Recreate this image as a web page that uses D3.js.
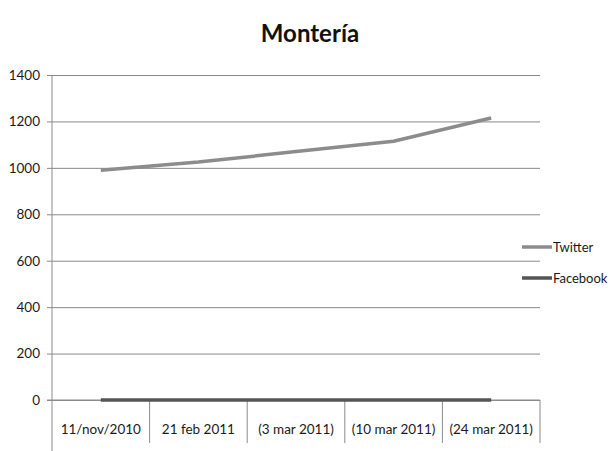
<!DOCTYPE html>
<html>
<head>
<meta charset="utf-8">
<script src="https://cdn.jsdelivr.net/npm/d3@7"></script>
<style>
  body { margin: 0; background: #fff; }
  svg { font-family: Lato, "Open Sans", sans-serif; }
</style>
</head>
<body>
<div id="chart"></div>
<script>
const categories = ["11/nov/2010", "21 feb 2011", "(3 mar 2011)", "(10 mar 2011)", "(24 mar 2011)"];
const twitter = [990, 1025, 1070, 1115, 1215];
const facebook = [0, 0, 0, 0, 0];
const yTicks = [0, 200, 400, 600, 800, 1000, 1200, 1400];

const width = 612;
const height = 451;
const marginTop = 75;
const marginBottom = 51;
const marginLeft = 52;
const plotRight = 540;

const svg = d3.select("#chart")
    .append("svg")
    .attr("width", width)
    .attr("height", height);

const x = d3.scaleBand()
    .domain(categories)
    .range([marginLeft, plotRight]);

const y = d3.scaleLinear()
    .domain([0, 1400])
    .range([height - marginBottom, marginTop]);

// title
svg.append("text")
    .attr("x", 310)
    .attr("y", 42)
    .attr("text-anchor", "middle")
    .attr("font-size", 24)
    .attr("font-weight", "bold")
    .attr("fill", "#111")
    .text("Montería");

// gridlines + y labels
svg.append("g")
    .attr("transform", `translate(${marginLeft},0)`)
    .call(d3.axisLeft(y).tickValues(yTicks).tickFormat(d3.format("d"))
        .tickSize(-(plotRight - marginLeft)).tickSizeOuter(0).tickPadding(12))
    .call(g => g.select(".domain").remove())
    .call(g => g.selectAll(".tick line").attr("stroke", "#8a8a8a").attr("x1", -5))
    .call(g => g.selectAll(".tick text").attr("font-size", 13.5).attr("fill", "#1a1a1a").attr("font-family", "Lato, sans-serif"));

// y axis line
svg.append("line")
    .attr("x1", marginLeft).attr("x2", marginLeft)
    .attr("y1", marginTop).attr("y2", height)
    .attr("stroke", "#8a8a8a");

// x axis with category separators
const xAxis = svg.append("g")
    .attr("transform", `translate(0,${y(0)})`);
xAxis.append("line")
    .attr("x1", marginLeft - 5).attr("x2", plotRight)
    .attr("stroke", "#8a8a8a");
xAxis.selectAll(".sep")
    .data(categories)
    .join("line")
    .attr("class", "sep")
    .attr("x1", d => x(d) + x.bandwidth()).attr("x2", d => x(d) + x.bandwidth())
    .attr("y1", 0).attr("y2", 43)
    .attr("stroke", "#8a8a8a");
xAxis.selectAll(".lbl")
    .data(categories)
    .join("text")
    .attr("class", "lbl")
    .attr("x", d => x(d) + x.bandwidth() / 2)
    .attr("y", 34)
    .attr("text-anchor", "middle")
    .attr("font-size", 13.5)
    .attr("fill", "#1a1a1a")
    .text(d => d);

const line = d3.line()
    .x((d, i) => x(categories[i]) + x.bandwidth() / 2)
    .y(d => y(d));

svg.append("path")
    .datum(facebook)
    .attr("fill", "none")
    .attr("stroke", "#555")
    .attr("stroke-width", 3.5)
    .attr("d", line);

svg.append("path")
    .datum(twitter)
    .attr("fill", "none")
    .attr("stroke", "#8c8c8c")
    .attr("stroke-width", 3.5)
    .attr("d", line);

// legend
const legend = [
    { name: "Twitter", color: "#8c8c8c", y: 247 },
    { name: "Facebook", color: "#555", y: 278 }
];
const lg = svg.append("g");
lg.selectAll("line")
    .data(legend)
    .join("line")
    .attr("x1", 522).attr("x2", 552)
    .attr("y1", d => d.y).attr("y2", d => d.y)
    .attr("stroke", d => d.color)
    .attr("stroke-width", 3.5);
lg.selectAll("text")
    .data(legend)
    .join("text")
    .attr("x", 553)
    .attr("y", d => d.y + 4.5)
    .attr("font-size", 13)
    .attr("fill", "#1a1a1a")
    .text(d => d.name);
</script>
</body>
</html>
